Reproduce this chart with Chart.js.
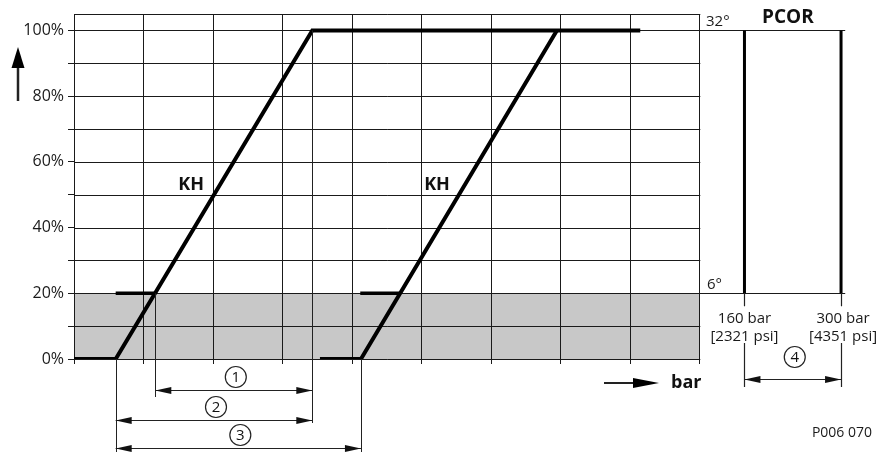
<!DOCTYPE html>
<html>
<head>
<meta charset="utf-8">
<script src="https://cdn.jsdelivr.net/npm/chart.js@4/dist/chart.umd.min.js"></script>
<style>
html,body{margin:0;background:#fff}
#wrap{width:879px;height:452px;position:relative}
</style>
</head>
<body>
<div id="wrap"><canvas id="c"></canvas></div>
<script>
// y axis ticks (percent) and their labels
const yTicks = [0, 10, 20, 30, 40, 50, 60, 70, 80, 90, 100];
const yLabels = ['0%', '', '20%', '', '40%', '', '60%', '', '80%', '', '100%'];
// vertical grid lines (grid units on the pressure axis)
const gridX = [0, 1, 2, 3, 4, 5, 6, 7, 8, 9];

// KH curves
const kh1X = [0, 0.60, 3.43, 8.15];
const kh1Y = [0, 0, 100, 100];
const kh2X = [3.54, 4.13, 6.95];
const kh2Y = [0, 0, 100];
// short marks at 20%
const stub1X = [0.60, 1.17];
const stub2X = [4.12, 4.69];
const stubY = 20;
// grey band
const band = [0, 20];

// PCOR panel
const pcorX = [9.65, 11.04];
const pcorEnd = 11.10;
const pcorY = [20, 100];
const pcorDeg = ['6°', '32°'];
const pcorBar = ['160 bar', '300 bar'];
const pcorPsi = ['[2321 psi]', '[4351 psi]'];

// dimension ranges below the chart: from, to, number
const dimFrom = [1.17, 0.60, 0.60];
const dimTo = [3.43, 3.43, 4.13];
const dimNum = ['1', '2', '3'];

const FONT = "'Open Sans', 'DejaVu Sans', sans-serif";

const pts = (xs, ys) => xs.map((x, i) => ({x: x, y: Array.isArray(ys) ? ys[i] : ys}));

function arrowHead(ctx, x, y, dir, len, half) {
  // dir: 1 = pointing right, -1 = pointing left, 'up'
  ctx.beginPath();
  if (dir === 'up') {
    ctx.moveTo(x, y); ctx.lineTo(x - half, y + len); ctx.lineTo(x + half, y + len);
  } else {
    ctx.moveTo(x, y); ctx.lineTo(x - dir * len, y - half); ctx.lineTo(x - dir * len, y + half);
  }
  ctx.closePath();
  ctx.fill();
}

function circled(ctx, cx, cy, txt) {
  ctx.beginPath();
  ctx.arc(cx, cy, 10.5, 0, Math.PI * 2);
  ctx.lineWidth = 1.2;
  ctx.stroke();
  ctx.font = '15px ' + FONT;
  ctx.textAlign = 'center';
  ctx.textBaseline = 'middle';
  ctx.fillText(txt, cx, cy + 1);
}

const diagram = {
  id: 'diagram',
  beforeDatasetsDraw(chart) {
    const {ctx, scales: {x, y}} = chart;
    const X = v => x.getPixelForValue(v), Y = v => y.getPixelForValue(v);
    const xl = X(gridX[0]), xr = X(gridX[gridX.length - 1]);
    ctx.save();
    ctx.fillStyle = '#c8c8c8';
    ctx.fillRect(xl, Y(band[1]), xr - xl, Y(band[0]) - Y(band[1]));

    ctx.strokeStyle = '#1a1a1a';
    ctx.lineWidth = 1;
    ctx.beginPath();
    gridX.forEach(v => {
      const p = Math.round(X(v)) + 0.5;
      ctx.moveTo(p, Y(y.max)); ctx.lineTo(p, Y(0) + 5);
    });
    yTicks.concat([y.max]).forEach(v => {
      const p = Math.round(Y(v)) + 0.5;
      ctx.moveTo(xl, p); ctx.lineTo(xr + 1, p);
    });
    // PCOR reference lines
    pcorY.forEach(v => {
      const p = Math.round(Y(v)) + 0.5;
      ctx.moveTo(xr, p); ctx.lineTo(X(pcorEnd), p);
    });
    ctx.stroke();
    ctx.restore();
  },
  afterDatasetsDraw(chart) {
    const {ctx, scales: {x, y}} = chart;
    const X = v => x.getPixelForValue(v), Y = v => y.getPixelForValue(v);
    const y0 = Y(0);
    ctx.save();
    ctx.strokeStyle = '#222';
    ctx.fillStyle = '#111';
    ctx.lineWidth = 1;

    // dimension lines
    const rows = [y0 + 31, y0 + 61, y0 + 89];
    ctx.beginPath();
    const ext = (v, top, bot) => { const p = Math.round(X(v)) + 0.5; ctx.moveTo(p, top); ctx.lineTo(p, bot); };
    ext(dimFrom[0], Y(stubY), rows[0] + 7);
    ext(dimTo[0], Y(100), rows[1] + 3);
    ext(dimFrom[1], y0, 452);
    ext(dimTo[2], y0, 452);
    rows.forEach((r, i) => {
      ctx.moveTo(X(dimFrom[i]), r + 0.5); ctx.lineTo(X(dimTo[i]), r + 0.5);
    });
    ctx.stroke();
    rows.forEach((r, i) => {
      arrowHead(ctx, X(dimFrom[i]), r + 0.5, -1, 16, 3.5);
      arrowHead(ctx, X(dimTo[i]), r + 0.5, 1, 16, 3.5);
      circled(ctx, (X(dimFrom[i]) + X(dimTo[i])) / 2 + 2, r - 13, dimNum[i]);
    });

    // PCOR extension + dimension 4
    ctx.beginPath();
    pcorX.forEach(v => {
      const p = Math.round(X(v)) + 0.5;
      ctx.moveTo(p, Y(20)); ctx.lineTo(p, Y(20) + 13);
      ctx.moveTo(p, y0 - 16); ctx.lineTo(p, y0 + 28);
    });
    ctx.moveTo(X(pcorX[0]), y0 + 20.5); ctx.lineTo(X(pcorX[1]), y0 + 20.5);
    ctx.stroke();
    arrowHead(ctx, X(pcorX[0]), y0 + 20.5, -1, 16, 3.5);
    arrowHead(ctx, X(pcorX[1]), y0 + 20.5, 1, 16, 3.5);
    circled(ctx, (X(pcorX[0]) + X(pcorX[1])) / 2 + 2, y0 - 2, '4');

    // texts
    ctx.fillStyle = '#111';
    ctx.textBaseline = 'middle';
    ctx.textAlign = 'left';
    ctx.font = 'bold 18px ' + FONT;
    ctx.fillText('KH', X(1.50), Y(53));
    ctx.fillText('KH', X(5.04), Y(53));
    ctx.font = 'bold 19px ' + FONT;
    ctx.fillText('PCOR', 762, 18);
    ctx.font = 'bold 18px ' + FONT;
    ctx.fillText('bar', 671, 383);

    ctx.font = '15px ' + FONT;
    ctx.fillStyle = '#1a1a1a';
    ctx.fillText(pcorDeg[1], Math.round(X(9)) + 7, Y(pcorY[1]) - 9);
    ctx.fillText(pcorDeg[0], Math.round(X(9)) + 8, Y(pcorY[0]) - 9);
    ctx.textAlign = 'center';
    pcorX.forEach((v, i) => {
      const cx = X(v) + (i === 1 ? 2 : 0);
      ctx.fillText(pcorBar[i], cx, Y(20) + 25);
      ctx.fillText(pcorPsi[i], cx, Y(20) + 43);
    });
    ctx.font = '14px ' + FONT;
    ctx.textAlign = 'right';
    ctx.fillText('P006 070', 872, 433);

    // "bar" arrow
    ctx.lineWidth = 2;
    ctx.beginPath();
    ctx.moveTo(604, 383); ctx.lineTo(640, 383);
    ctx.stroke();
    ctx.fillStyle = '#000';
    arrowHead(ctx, 659, 383, 1, 26, 5);

    // up arrow next to y axis
    ctx.beginPath();
    ctx.moveTo(18, 62); ctx.lineTo(18, 101);
    ctx.lineWidth = 2.5;
    ctx.stroke();
    arrowHead(ctx, 18, 47, 'up', 21, 6.5);
    ctx.restore();
  }
};

const thick = {borderColor: '#000', borderWidth: 4, pointRadius: 0, borderJoinStyle: 'miter', borderCapStyle: 'butt', fill: false};

new Chart(document.getElementById('c'), {
  type: 'line',
  data: {
    datasets: [
      Object.assign({data: pts(kh1X, kh1Y)}, thick),
      Object.assign({data: pts(kh2X, kh2Y)}, thick),
      Object.assign({data: pts(stub1X, stubY)}, thick, {borderWidth: 3.5}),
      Object.assign({data: pts(stub2X, stubY)}, thick, {borderWidth: 3.5}),
      Object.assign({data: pts([pcorX[0], pcorX[0]], pcorY)}, thick, {borderWidth: 3}),
      Object.assign({data: pts([pcorX[1], pcorX[1]], pcorY)}, thick, {borderWidth: 3})
    ]
  },
  options: {
    responsive: true,
    maintainAspectRatio: false,
    animation: false,
    layout: {padding: {top: 14, right: 6, bottom: 93, left: 0}},
    plugins: {legend: {display: false}, tooltip: {enabled: false}},
    scales: {
      x: {type: 'linear', min: 0, max: 11.5, display: false},
      y: {
        type: 'linear', min: 0, max: 105,
        afterBuildTicks: s => { s.ticks = yTicks.map(v => ({value: v})); },
        afterFit: s => { s.width = 74; },
        ticks: {
          autoSkip: false,
          padding: 4,
          color: '#1a1a1a',
          font: {family: FONT, size: 16},
          callback: v => yLabels[yTicks.indexOf(v)]
        },
        grid: {drawOnChartArea: false, tickLength: 6, color: '#1a1a1a'},
        border: {display: false}
      }
    }
  },
  plugins: [diagram]
});
</script>
</body>
</html>
